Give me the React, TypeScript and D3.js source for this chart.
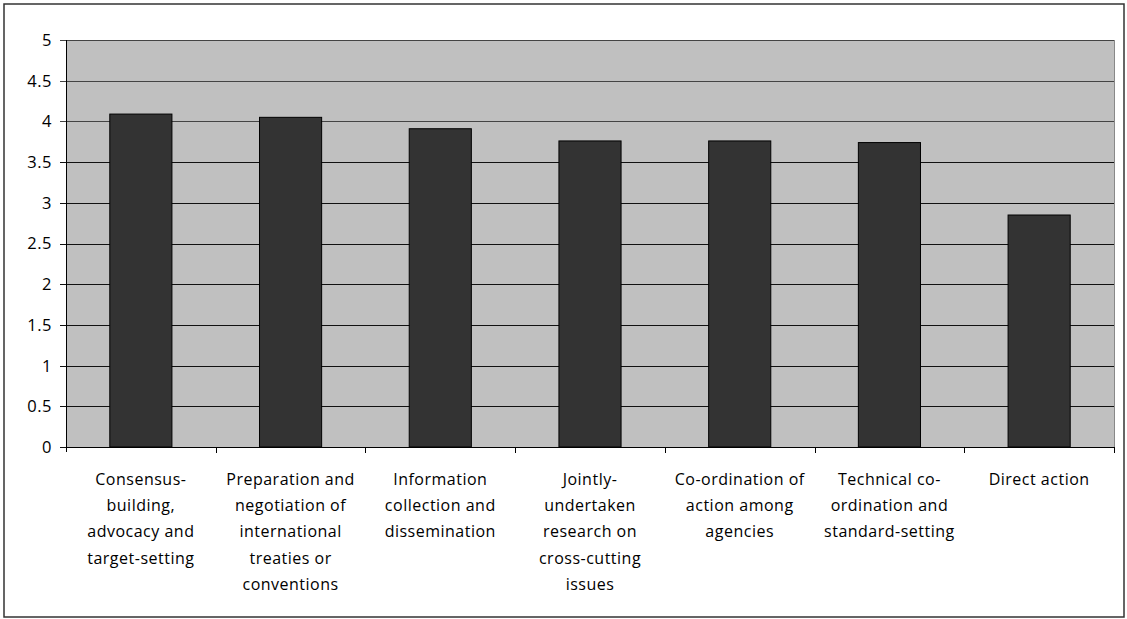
import React from "react";
import * as d3 from "d3";

const categories = [
  ["Consensus-", "building,", "advocacy and", "target-setting"],
  ["Preparation and", "negotiation of", "international", "treaties or", "conventions"],
  ["Information", "collection and", "dissemination"],
  ["Jointly-", "undertaken", "research on", "cross-cutting", "issues"],
  ["Co-ordination of", "action among", "agencies"],
  ["Technical co-", "ordination and", "standard-setting"],
  ["Direct action"],
];
const values = [4.09, 4.05, 3.91, 3.76, 3.76, 3.74, 2.85];
const yTicks = [0, 0.5, 1, 1.5, 2, 2.5, 3, 3.5, 4, 4.5, 5];

const W = 1127;
const H = 619;
const plot = { left: 66, right: 1114, top: 40, bottom: 447 };

const App = () => {
  const x = d3
    .scaleBand<number>()
    .domain(values.map((_, i) => i))
    .range([plot.left, plot.right]);
  const y = d3.scaleLinear().domain([0, 5]).range([plot.bottom, plot.top]);
  const barW = x.step() * 0.415;
  const font = "'Open Sans', Lato, sans-serif";

  return (
    <svg
      width={W}
      height={H}
      style={{ position: "fixed", left: 0, top: 0, background: "#fff" }}
      fontFamily={font}
    >
      <rect x={4} y={4} width={1120} height={613} fill="#fff" stroke="#333" strokeWidth={1.5} />
      <rect
        x={plot.left}
        y={plot.top}
        width={plot.right - plot.left}
        height={plot.bottom - plot.top}
        fill="#c0c0c0"
      />
      {yTicks.map((t) => (
        <g key={t}>
          <line
            x1={plot.left - 6}
            x2={plot.right}
            y1={Math.round(y(t)) + 0.5}
            y2={Math.round(y(t)) + 0.5}
            stroke={t === 4 || t === 4.5 || t === 5 ? "#444" : "#111"}
            strokeWidth={1}
          />
          <text
            x={plot.left - 14}
            y={y(t)}
            dy="0.36em"
            textAnchor="end"
            fontSize={16.5}
            letterSpacing={0.5}
            fill="#000"
          >
            {t}
          </text>
        </g>
      ))}
      <line x1={plot.right + 0.5} x2={plot.right + 0.5} y1={plot.top} y2={plot.bottom} stroke="#888" />
      {values.map((v, i) => {
        const cx = (x(i) as number) + x.bandwidth() / 2;
        return (
          <rect
            key={i}
            x={cx - barW / 2}
            y={y(v)}
            width={barW}
            height={plot.bottom - y(v)}
            fill="#333333"
            stroke="#000"
            strokeWidth={1}
          />
        );
      })}
      <line x1={plot.left + 0.5} x2={plot.left + 0.5} y1={plot.top} y2={plot.bottom + 5} stroke="#000" />
      <line x1={plot.left} x2={plot.right} y1={plot.bottom + 0.5} y2={plot.bottom + 0.5} stroke="#000" />
      {values.map((_, i) => {
        const bx = Math.round((x(i) as number) + x.step()) + 0.5;
        return <line key={i} x1={bx} x2={bx} y1={plot.bottom} y2={plot.bottom + 6} stroke="#000" />;
      })}
      {categories.map((lines, i) => {
        const cx = (x(i) as number) + x.bandwidth() / 2;
        return (
          <text key={i} x={cx} y={485} textAnchor="middle" fontSize={16} letterSpacing={0.5} fill="#000">
            {lines.map((l, j) => (
              <tspan key={j} x={cx} y={485 + j * 26.2}>
                {l}
              </tspan>
            ))}
          </text>
        );
      })}
    </svg>
  );
};

export default App;
